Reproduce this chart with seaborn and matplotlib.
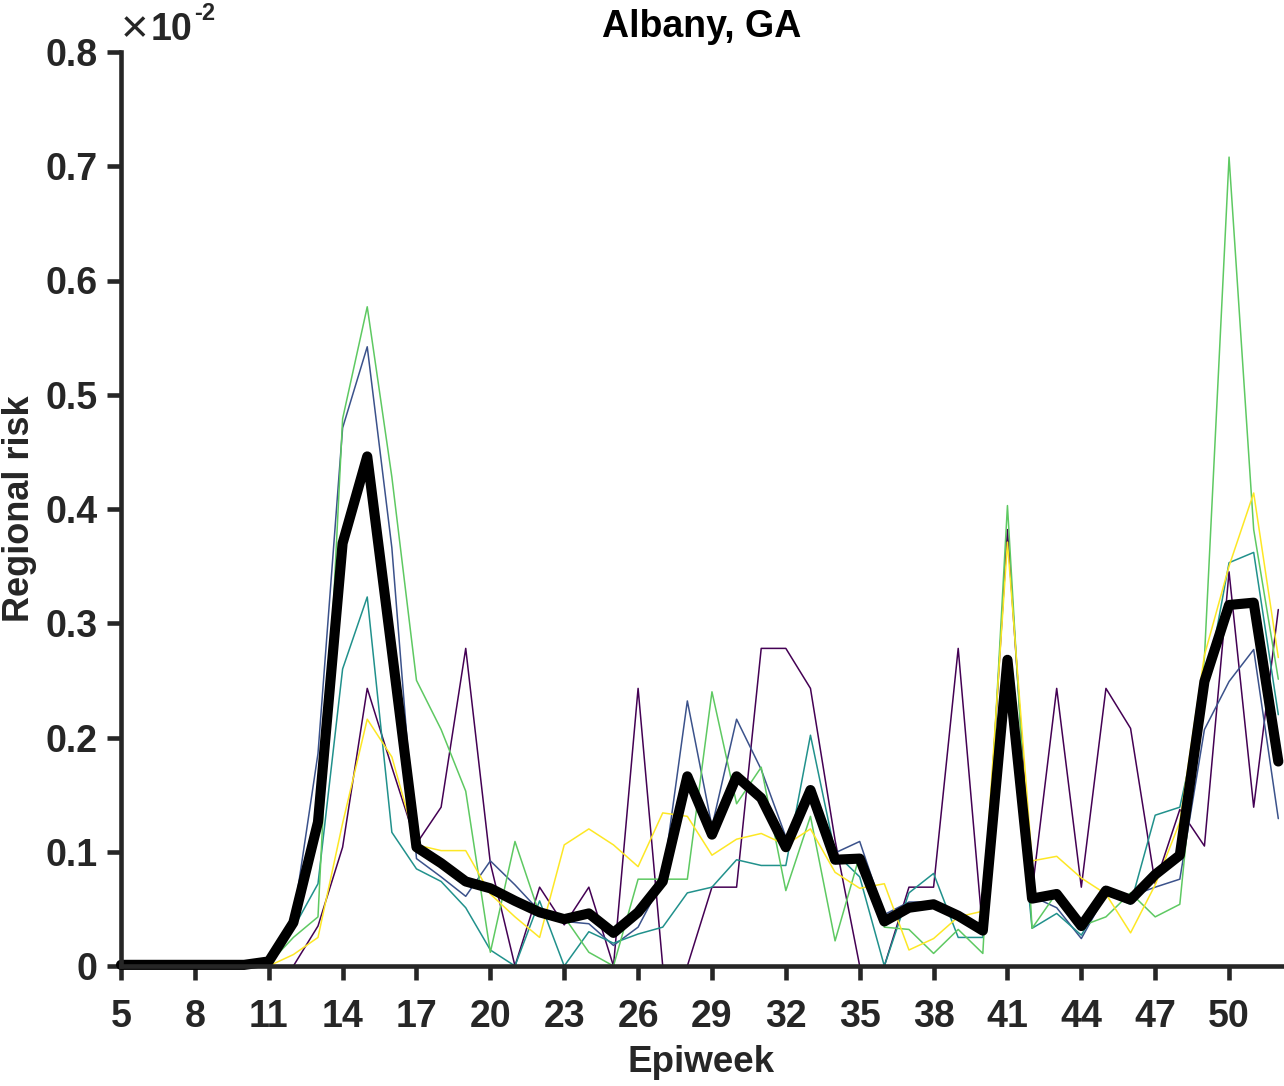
import matplotlib
matplotlib.use('Agg')
import matplotlib.pyplot as plt
import pandas as pd
import seaborn as sns


weeks = list(range(5, 53))
week_ticks = list(range(5, 51, 3))
risk_ticks = [0, 0.1, 0.2, 0.3, 0.4, 0.5, 0.6, 0.7, 0.8]
risk_labels = ['0', '0.1', '0.2', '0.3', '0.4', '0.5', '0.6', '0.7', '0.8']

# regional risk per epiweek (x 10^-2), weeks 5-10 are flat at zero
flat = [0] * 6
run_1 = flat + [0, 0, 0.035, 0.104, 0.243, 0.174, 0.107, 0.139, 0.278, 0.09,
                0, 0.069, 0.036, 0.069, 0, 0.243, 0, 0, 0.069, 0.069,
                0.278, 0.278, 0.243, 0.11, 0, 0, 0.069, 0.069, 0.278, 0.029,
                0.382, 0.065, 0.243, 0.069, 0.243, 0.208, 0.072, 0.137, 0.105, 0.345,
                0.139, 0.312]
run_2 = flat + [0.004, 0.041, 0.186, 0.471, 0.542, 0.366, 0.094, 0.078, 0.061, 0.092,
                0.071, 0.048, 0.039, 0.037, 0.018, 0.034, 0.075, 0.232, 0.122, 0.216,
                0.172, 0.113, 0.147, 0.099, 0.109, 0.045, 0.056, 0.056, 0.045, 0.035,
                0.233, 0.061, 0.051, 0.024, 0.063, 0.061, 0.069, 0.076, 0.207, 0.249,
                0.277, 0.129]
run_3 = flat + [0.002, 0.033, 0.072, 0.26, 0.323, 0.117, 0.085, 0.074, 0.051, 0.014,
                0, 0.057, 0, 0.03, 0.02, 0.028, 0.034, 0.064, 0.069, 0.093,
                0.088, 0.088, 0.202, 0.099, 0.078, 0, 0.064, 0.081, 0.025, 0.025,
                0.253, 0.033, 0.046, 0.027, 0.064, 0.054, 0.132, 0.139, 0.236, 0.353,
                0.362, 0.22]
run_4 = flat + [0.002, 0.025, 0.043, 0.479, 0.577, 0.428, 0.25, 0.207, 0.153, 0.012,
                0.109, 0.045, 0.043, 0.012, 0, 0.076, 0.076, 0.076, 0.24, 0.142,
                0.174, 0.066, 0.131, 0.022, 0.097, 0.034, 0.032, 0.011, 0.032, 0.011,
                0.403, 0.033, 0.064, 0.035, 0.043, 0.064, 0.043, 0.054, 0.27, 0.708,
                0.382, 0.251]
run_5 = flat + [0, 0.01, 0.025, 0.125, 0.216, 0.183, 0.106, 0.101, 0.101, 0.063,
                0.043, 0.025, 0.106, 0.12, 0.106, 0.087, 0.134, 0.131, 0.097, 0.111,
                0.116, 0.106, 0.12, 0.082, 0.068, 0.072, 0.014, 0.024, 0.043, 0.048,
                0.371, 0.092, 0.096, 0.077, 0.063, 0.029, 0.071, 0.126, 0.272, 0.35,
                0.414, 0.27]
mean_risk = [0.001] * 6 + [0.004, 0.038, 0.126, 0.37, 0.446, 0.276, 0.104, 0.09, 0.074, 0.068,
                           0.057, 0.047, 0.041, 0.046, 0.029, 0.047, 0.074, 0.166, 0.115, 0.166,
                           0.147, 0.104, 0.154, 0.093, 0.094, 0.039, 0.051, 0.054, 0.044, 0.031,
                           0.268, 0.059, 0.063, 0.035, 0.066, 0.058, 0.08, 0.097, 0.249, 0.316,
                           0.318, 0.179]

run_names = ['run 1', 'run 2', 'run 3', 'run 4', 'run 5']
run_colors = ['#440154', '#3b528b', '#21918c', '#5ec962', '#fde725']

runs = [run_1, run_2, run_3, run_4, run_5]
df_runs = pd.DataFrame({
    'week': weeks * len(runs),
    'risk': [v for r in runs for v in r],
    'run': [n for n in run_names for _ in weeks],
})
df_mean = pd.DataFrame({'week': weeks, 'risk': mean_risk})

sns.set_style('ticks')
plt.rcParams['font.family'] = ['Liberation Sans', 'DejaVu Sans']
plt.rcParams['font.weight'] = 'bold'

grey = '#262626'
fig = plt.figure(figsize=(12.84, 10.86), dpi=100)
ax = fig.add_axes([121 / 1284, 120 / 1086, 1161 / 1284, 914 / 1086])

sns.lineplot(data=df_runs, x='week', y='risk', hue='run', palette=run_colors,
             linewidth=1.1, estimator=None, legend=False, ax=ax)
sns.lineplot(data=df_mean, x='week', y='risk', color='black', linewidth=7.3,
             ax=ax, solid_joinstyle='round')
for line in ax.lines:
    line.set_clip_on(False)

ax.set_xlim(5, 52.15)
ax.set_ylim(0, 0.8)
ax.set_xticks(week_ticks)
ax.set_yticks(risk_ticks)
ax.set_yticklabels(risk_labels)

for side in ['top', 'right']:
    ax.spines[side].set_visible(False)
for side in ['left', 'bottom']:
    ax.spines[side].set_linewidth(3.3)
    ax.spines[side].set_color(grey)

ax.tick_params(direction='out', length=10, width=3.3, colors=grey, labelsize=27)
ax.tick_params(axis='x', pad=14)
ax.tick_params(axis='y', pad=7)

ax.set_title('Albany, GA', fontsize=27, fontweight='bold', color='black', pad=11)
ax.set_xlabel('Epiweek', fontsize=26.5, fontweight='bold', color=grey, labelpad=7)
ax.set_ylabel('Regional risk', fontsize=26, fontweight='bold', color=grey, labelpad=6)

# MATLAB style exponent label above the y axis
fig.text(121 / 1284, 1 - 42 / 1086, '\u00d7', fontsize=34, fontweight='normal', color=grey)
fig.text(151 / 1284, 1 - 40 / 1086, '10', fontsize=27, fontweight='bold', color=grey)
fig.text(194 / 1284, 1 - 20 / 1086, '-2', fontsize=17, fontweight='bold', color=grey)

fig.savefig('out.png', dpi=100)
